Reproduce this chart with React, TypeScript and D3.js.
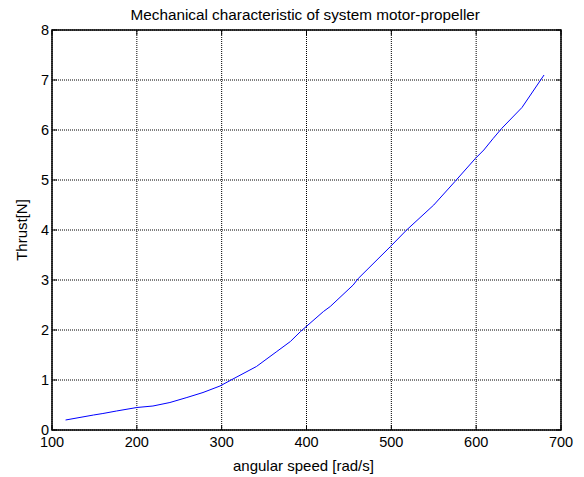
import * as d3 from "d3";
import React from "react";

const speed = [116, 149, 160, 176, 200, 219, 239, 259, 278, 298, 310, 341, 365, 381, 393, 420, 428, 455, 461, 499, 518, 550, 575, 599, 609, 620, 630, 654, 680];
const thrust = [0.2, 0.3, 0.33, 0.38, 0.45, 0.48, 0.55, 0.65, 0.75, 0.88, 0.99, 1.27, 1.57, 1.77, 1.97, 2.37, 2.47, 2.9, 3.03, 3.67, 4.0, 4.5, 4.97, 5.43, 5.6, 5.83, 6.03, 6.45, 7.1];
const xTicks = [100, 200, 300, 400, 500, 600, 700];
const yTicks = [0, 1, 2, 3, 4, 5, 6, 7, 8];

const width = 584;
const height = 477;
const margin = { top: 30, right: 23, bottom: 47, left: 52 };
const font = "'Liberation Sans', Arial, sans-serif";

const App = () => {
  const x = d3.scaleLinear().domain([100, 700]).range([margin.left, width - margin.right]);
  const y = d3.scaleLinear().domain([0, 8]).range([height - margin.bottom, margin.top]);

  const line = d3
    .line<number>()
    .x((d, i) => x(speed[i]))
    .y((d) => y(d));

  const x0 = x.range()[0];
  const x1 = x.range()[1];
  const y0 = y.range()[0];
  const y1 = y.range()[1];

  return (
    <div style={{ position: "absolute", left: 0, top: 0 }}>
      <svg width={width} height={height} style={{ display: "block", background: "#fff" }}>
        <rect x={0} y={0} width={width} height={height} fill="#fff" />
        {/* grid */}
        {xTicks.map((t) => (
          <line key={"gx" + t} x1={x(t)} x2={x(t)} y1={y0} y2={y1} stroke="#000" strokeDasharray="1,1" strokeWidth={1} />
        ))}
        {yTicks.map((t) => (
          <line key={"gy" + t} x1={x0} x2={x1} y1={y(t)} y2={y(t)} stroke="#000" strokeDasharray="1,1" strokeWidth={1} />
        ))}
        {/* tick marks on all sides */}
        {xTicks.map((t) => (
          <g key={"tx" + t}>
            <line x1={x(t)} x2={x(t)} y1={y0} y2={y0 - 5} stroke="#000" />
            <line x1={x(t)} x2={x(t)} y1={y1} y2={y1 + 5} stroke="#000" />
          </g>
        ))}
        {yTicks.map((t) => (
          <g key={"ty" + t}>
            <line x1={x0} x2={x0 + 5} y1={y(t)} y2={y(t)} stroke="#000" />
            <line x1={x1} x2={x1 - 5} y1={y(t)} y2={y(t)} stroke="#000" />
          </g>
        ))}
        <path d={line(thrust) || undefined} fill="none" stroke="#0000ff" strokeWidth={1} />
        <rect x={x0} y={y1} width={x1 - x0} height={y0 - y1} fill="none" stroke="#000" strokeWidth={1.5} />
        {/* tick labels */}
        {xTicks.map((t) => (
          <text key={"lx" + t} x={x(t)} y={y0 + 17} textAnchor="middle" fontFamily={font} fontSize={14.5} fill="#000">
            {t}
          </text>
        ))}
        {yTicks.map((t) => (
          <text key={"ly" + t} x={x0 - 3} y={y(t) + 5} textAnchor="end" fontFamily={font} fontSize={14.5} fill="#000">
            {t}
          </text>
        ))}
        <text x={130.5} y={19.5} textAnchor="start" fontFamily={font} fontSize={15.3} fill="#000">
          Mechanical characteristic of system motor-propeller
        </text>
        <text x={233} y={470.5} textAnchor="start" fontFamily={font} fontSize={15} fill="#000">
          angular speed [rad/s]
        </text>
        <text transform={`translate(27, ${(y0 + y1) / 2}) rotate(-90)`} textAnchor="middle" fontFamily={font} fontSize={15} fill="#000">
          Thrust[N]
        </text>
      </svg>
    </div>
  );
};

export default App;
